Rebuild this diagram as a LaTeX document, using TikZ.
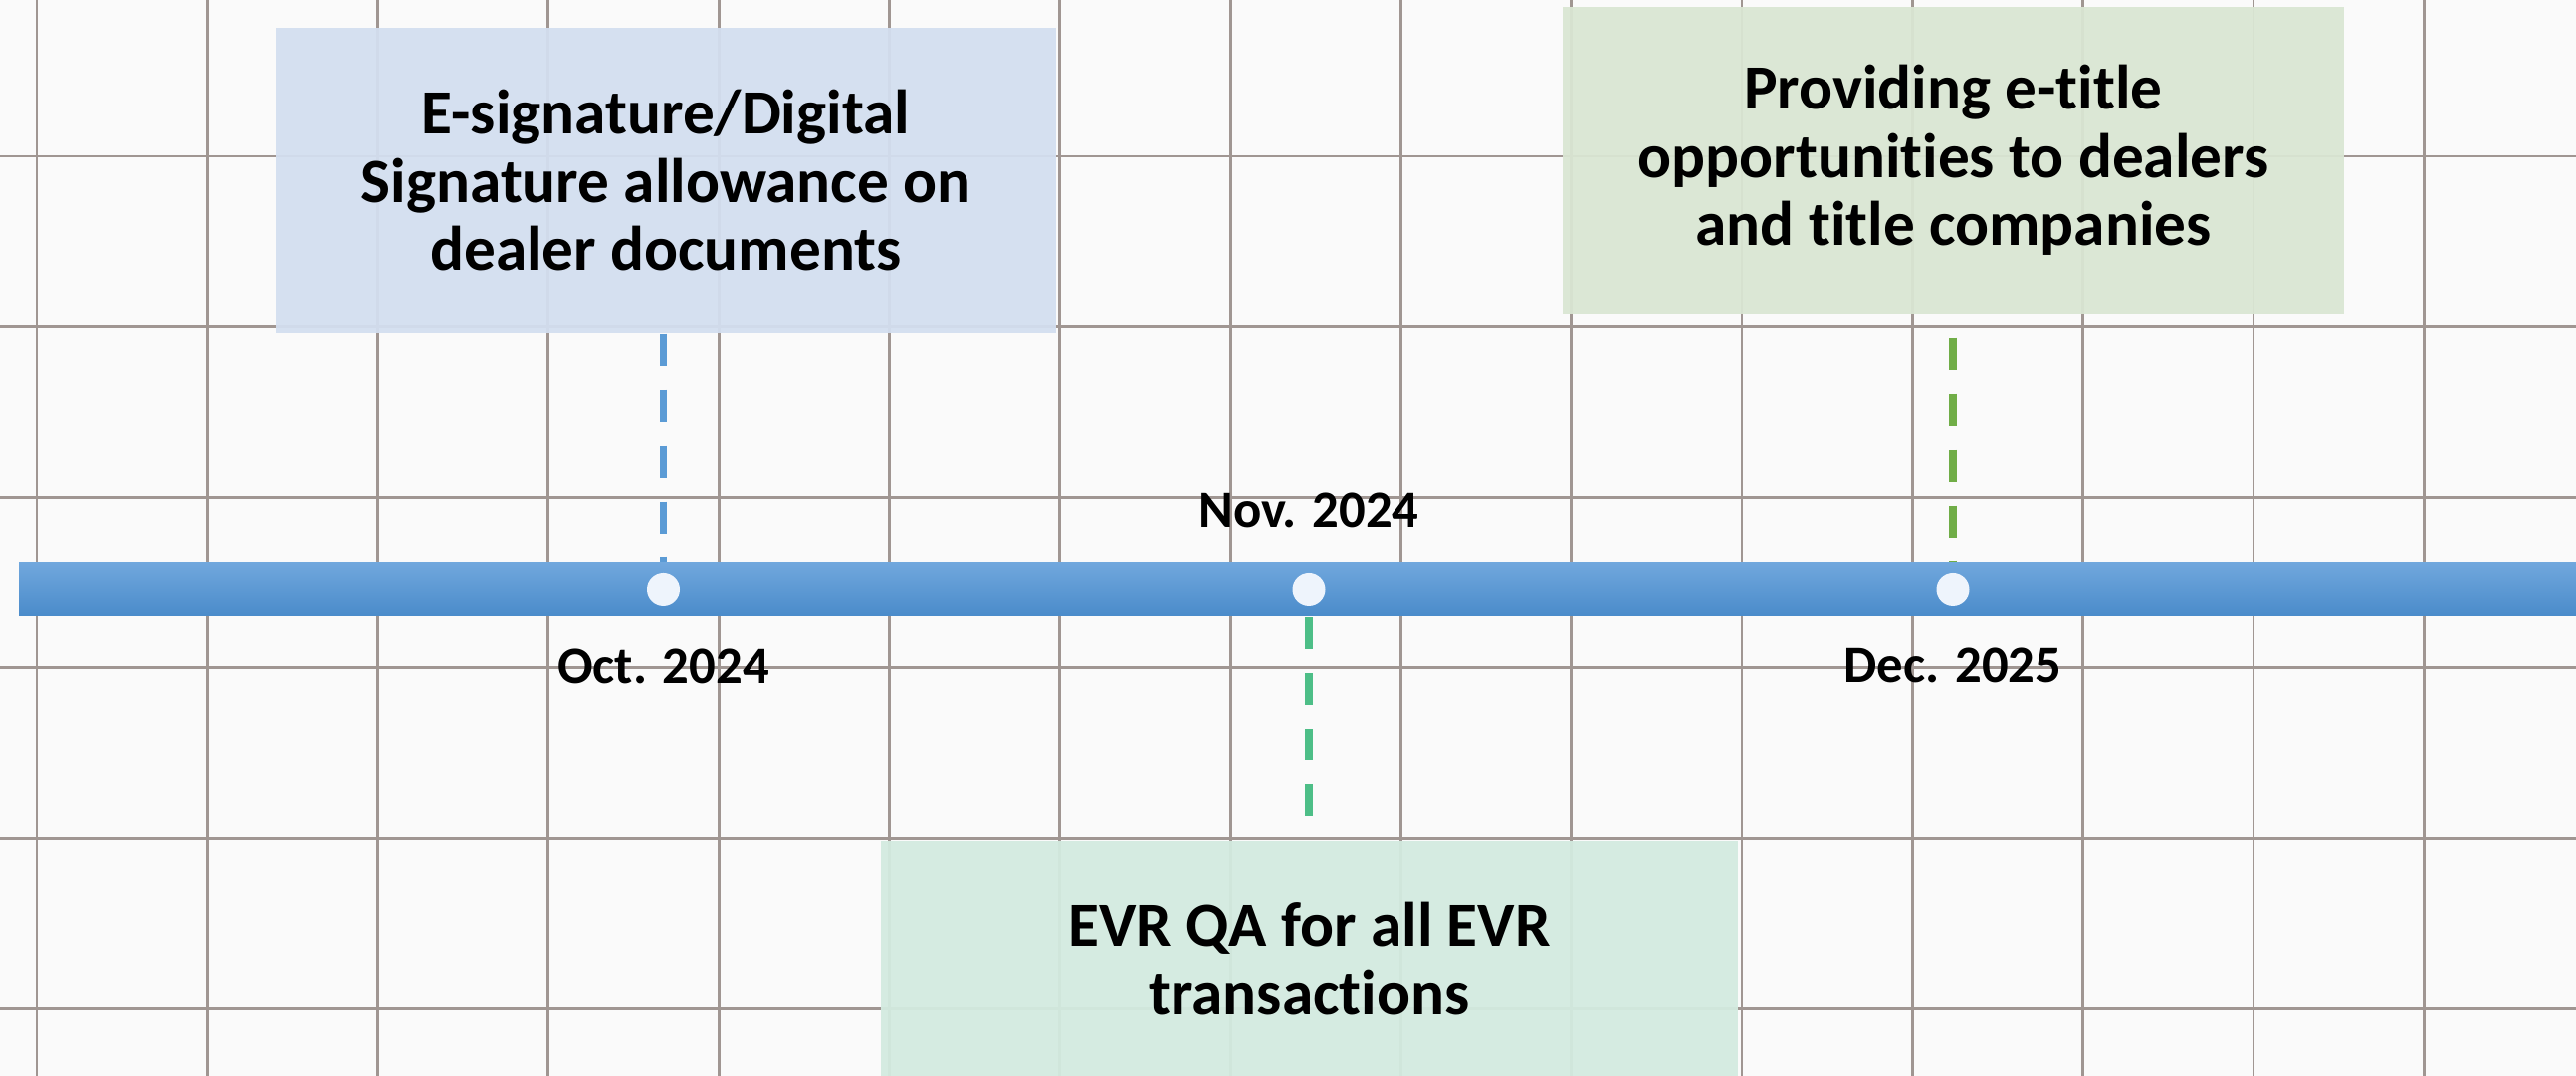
\documentclass[tikz,border=0pt]{standalone}
\usepackage{fontspec}
\setmainfont{Carlito}[Ligatures=NoCommon]
\usetikzlibrary{shapes,backgrounds,positioning}
\usepackage{xcolor}

\definecolor{paper}{RGB}{250,250,250}
\definecolor{gridgray}{RGB}{160,150,146}
\definecolor{sigblue}{RGB}{211,223,240}
\definecolor{titlegreen}{RGB}{218,230,211}
\definecolor{evrmint}{RGB}{211,235,224}
\definecolor{bartop}{RGB}{112,167,221}
\definecolor{barbottom}{RGB}{74,139,202}
\definecolor{dotfill}{RGB}{238,244,252}
\definecolor{sigline}{RGB}{91,155,213}
\definecolor{evrline}{RGB}{77,190,135}
\definecolor{titleline}{RGB}{112,173,71}

\begin{document}
\begin{tikzpicture}
            \def\W{25.88}
            \def\H{10.81}
            \def\barY{4.885}
            \tikzset{
                gridline/.style={gridgray, line width=0.8pt},
                card/.style={fill opacity=0.94, text opacity=1, align=center, inner sep=0pt,
                    font=\fontsize{18}{19.5}\selectfont\bfseries},
                datelabel/.style={font=\fontsize{15}{17}\selectfont\bfseries},
                tick/.style={circle, fill=dotfill, minimum size=0.33cm, inner sep=0pt},
                link/.style={line width=2pt, dash pattern=on 0.32cm off 0.24cm}
            }
            \useasboundingbox (0,0) rectangle (\W,\H);

            % paper with grid
            \fill[paper] (0,0) rectangle (\W,\H);
            \foreach \i in {0,...,14}
                \draw[gridline] ({0.37+1.713*\i},0) -- ({0.37+1.713*\i},\H);
            \foreach \j in {0,...,5}
                \draw[gridline] (0,{9.24-1.713*\j}) -- (\W,{9.24-1.713*\j});

            \node[card, fill=sigblue, minimum width=7.84cm, minimum height=3.07cm] (esign) at (6.69,8.995)
                {E-signature/Digital\\Signature allowance on\\dealer documents};
            \node[card, fill=titlegreen, minimum width=7.85cm, minimum height=3.08cm] (etitle) at (19.625,9.2)
                {Providing e-title\\opportunities to dealers\\and title companies};
            \node[card, fill=evrmint, minimum width=8.61cm, minimum height=2.36cm] (evrqa) at (13.155,1.18)
                {EVR QA for all EVR\\transactions};

            \coordinate (oct) at (6.665,\barY);
            \coordinate (nov) at (13.15,\barY);
            \coordinate (dec) at (19.62,\barY);

            \draw[link, sigline] (esign.south -| oct) -- (oct);
            \draw[link, evrline, dash phase=0.28cm] (nov) -- (evrqa.north -| nov);
            \draw[link, titleline, dash phase=0.32cm] (etitle.south -| dec) -- (dec);

            % the time line
            \shade[top color=bartop, bottom color=barbottom] (0.19,4.62) rectangle (\W+0.1,5.15);

            \node[tick] (octdot) at (oct) {};
            \node[tick] (novdot) at (nov) {};
            \node[tick] (decdot) at (dec) {};

            \node[datelabel] (octlabel) at (6.665,4.12) {Oct. 2024};
            \node[datelabel] (novlabel) at (13.15,5.69) {Nov. 2024};
            \node[datelabel] (declabel) at (19.62,4.13) {Dec. 2025};
        \end{tikzpicture}
\end{document}
